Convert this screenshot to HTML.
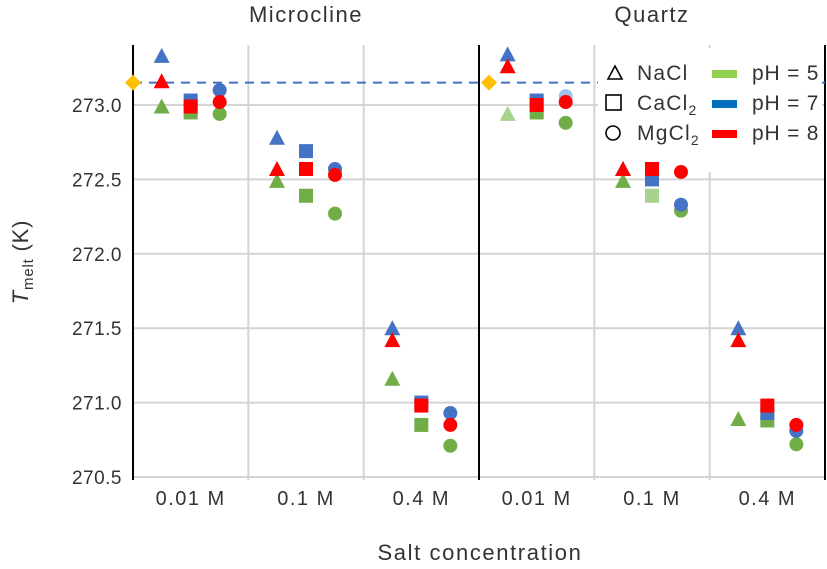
<!DOCTYPE html>
<html><head><meta charset="utf-8"><style>
body{margin:0;background:#fff;}
svg text{font-family:"Liberation Sans","DejaVu Sans",sans-serif;fill:#333;}
</style></head><body>
<svg id="chart" width="827" height="564" viewBox="0 0 827 564"></svg>
<script>
const mins = ["Microcline","Quartz"];
const concs = ["0.01 M","0.1 M","0.4 M"];
const salts = ["NaCl","CaCl2","MgCl2"];
const phs = ["pH = 5","pH = 7","pH = 8"];
const yTicks = [270.5,271.0,271.5,272.0,272.5,273.0];
const refT = 273.15;
// values[mineral][conc][salt] = [pH5, pH7, pH8]
const microcline001 = [[272.99,273.33,273.16],[272.95,273.03,272.99],[272.94,273.10,273.02]];
const microcline01 = [[272.49,272.78,272.57],[272.39,272.69,272.57],[272.27,272.57,272.53]];
const microcline04 = [[271.16,271.50,271.42],[270.85,271.00,270.98],[270.71,270.93,270.85]];
const quartz001 = [[272.94,273.34,273.26],[272.95,273.03,273.00],[272.88,273.06,273.02]];
const quartz01 = [[272.49,272.57,272.57],[272.39,272.50,272.57],[272.29,272.33,272.55]];
const quartz04 = [[270.89,271.50,271.42],[270.88,270.93,270.98],[270.72,270.81,270.85]];
const data = [[microcline001,microcline01,microcline04],[quartz001,quartz01,quartz04]];

const colors=["#70AD47","#4472C4","#FF0000"];
const svg=document.getElementById('chart');
const NS="http://www.w3.org/2000/svg";
function mk(t,a,p){const e=document.createElementNS(NS,t);for(const k in a)e.setAttribute(k,a[k]);(p||svg).appendChild(e);return e;}
const x0=133,x1=825,yTop=45,yBot=477;
const y=v=>105+(273-v)*148.8;
const groupW=(x1-x0)/6;
const gx=(m,c)=>x0+(m*3+c+0.5)*groupW;
const sx=(m,c,s)=>gx(m,c)+(s-1)*29;

yTicks.forEach(t=>{const l=mk('line',{x1:x0,x2:x1,y1:y(t),y2:y(t),stroke:'#d4d4d4','stroke-width':2});

const tx=mk('text',{x:122,y:y(t)+7,'text-anchor':'end','font-size':19,'letter-spacing':0.5});tx.textContent=t.toFixed(1);
});
for(let i=1;i<6;i++){if(i===3)continue;const xx=x0+i*groupW;
const l=mk('line',{x1:xx,x2:xx,y1:yTop,y2:yBot+3,stroke:'#d4d4d4','stroke-width':2});
}
[x0,x0+3*groupW,x1].forEach(xx=>{const l=mk('line',{x1:xx,x2:xx,y1:yTop,y2:yBot+3,stroke:'#000','stroke-width':2});
});

const rl=mk('line',{x1:x0,x2:x1,y1:y(refT),y2:y(refT),stroke:'#4472C4','stroke-width':2,'stroke-dasharray':'9,7'});

[x0,x0+3*groupW+10].forEach(xx=>{const d=mk('polygon',{points:`${xx-8},${y(refT)} ${xx},${y(refT)-8} ${xx+8},${y(refT)} ${xx},${y(refT)+8}`,fill:'#FFC000'});
});

const lg=mk('g',{});
mk('rect',{x:598,y:48,width:224,height:124,fill:'#fff'},lg);

function marker(s,cx,cy,col,parent){let e;
if(s===0)e=mk('polygon',{points:`${cx-8},${cy+7} ${cx},${cy-8} ${cx+8},${cy+7}`,fill:col},parent);
else if(s===1)e=mk('rect',{x:cx-7,y:cy-7,width:14,height:14,fill:col},parent);
else e=mk('circle',{cx:cx,cy:cy,r:7,fill:col},parent);return e;}
data.forEach((md,m)=>md.forEach((cd,c)=>cd.forEach((sd,s)=>{
[0,1,2].forEach(p=>{let col=colors[p];
if(m===1&&c===0&&p===0&&s===0)col='#A9D18E';
if(m===1&&c===0&&p===1&&s===2)col='#9DC3E6';
if(m===1&&c===1&&p===0&&s===1)col='#A9D18E';
const e=marker(s,sx(m,c,s),y(sd[p]),col);

});
})));

const lsub=[["NaCl",""],["CaCl","2"],["MgCl","2"]];
lsub.forEach((l,i)=>{const cy=72+i*30;
const g=mk('g',{},lg);
if(i===0)mk('polygon',{points:`608,${cy+7} 615,${cy-6} 622,${cy+7}`,fill:'none',stroke:'#000','stroke-width':1.6},g);
else if(i===1)mk('rect',{x:606,y:cy-7,width:15,height:15,fill:'none',stroke:'#000','stroke-width':1.6},g);
else mk('circle',{cx:613,cy:cy+1,r:7,fill:'none',stroke:'#000','stroke-width':1.6},g);
const t=mk('text',{x:637,y:cy+8,'font-size':21,'letter-spacing':1.2},g);t.textContent=l[0];
if(l[1]){const ts=mk('tspan',{'font-size':14,dy:5},t);ts.textContent=l[1];}
const g2=mk('g',{},lg);
mk('rect',{x:712,y:cy-2,width:25,height:8,fill:['#92D050','#0070C0','#FF0000'][i]},g2);
const t2=mk('text',{x:752,y:cy+8,'font-size':21,'letter-spacing':0.8},g2);t2.textContent=phs[i];});

mins.forEach((mn,m)=>{const t=mk('text',{x:gx(m,1),y:22,'text-anchor':'middle','font-size':22,'letter-spacing':1.5});t.textContent=mn;

concs.forEach((c,ci)=>{const t=mk('text',{x:gx(m,ci),y:505,'text-anchor':'middle','font-size':20,'letter-spacing':1.5});t.textContent=c;
});});

const xt=mk('text',{x:480,y:560,'text-anchor':'middle','font-size':22,'letter-spacing':1.6});xt.textContent="Salt concentration";

const yt=mk('text',{transform:'translate(28,262) rotate(-90)','text-anchor':'middle','font-size':22,'letter-spacing':0.8});

const a=mk('tspan',{'font-style':'italic'},yt);a.textContent="T";
const b=mk('tspan',{'font-size':15,dy:5},yt);b.textContent="melt";
const c2=mk('tspan',{dy:-5},yt);c2.textContent=" (K)";
</script>
</body></html>
